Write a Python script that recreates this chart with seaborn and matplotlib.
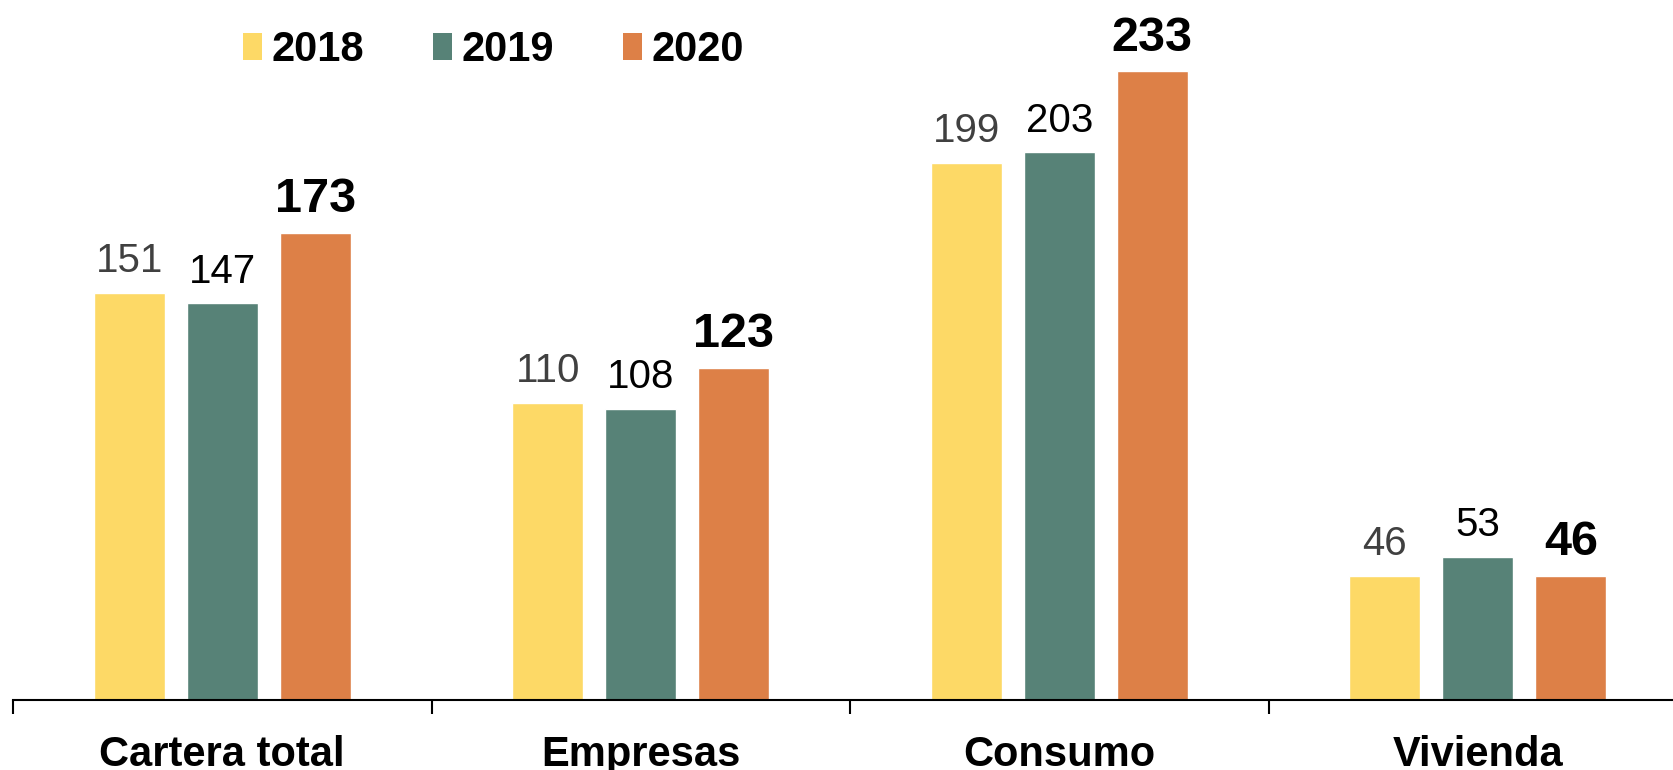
import matplotlib
matplotlib.use("Agg")
import matplotlib.pyplot as plt
import seaborn as sns
import pandas as pd
from matplotlib.patches import Patch

categories = ["Cartera total", "Empresas", "Consumo", "Vivienda"]
years = ["2018", "2019", "2020"]
values_2018 = [151, 110, 199, 46]
values_2019 = [147, 108, 203, 53]
values_2020 = [173, 123, 233, 46]
colors = ["#FDD966", "#578277", "#DD8047"]

rows = []
for yr, vals in zip(years, [values_2018, values_2019, values_2020]):
    for c, v in zip(categories, vals):
        rows.append({"categoria": c, "anio": yr, "valor": v})
df = pd.DataFrame(rows)

sns.set_style("white")
plt.rcParams['font.family'] = ['Liberation Sans', 'DejaVu Sans']

W, H, DPI = 1674, 770, 100
fig = plt.figure(figsize=(W / DPI, H / DPI), dpi=DPI)
ax = fig.add_axes([13 / W, 70 / H, (4 * 418.5) / W, 700 / H])

sns.barplot(data=df, x="categoria", y="valor", hue="anio", order=categories,
            hue_order=years, palette=colors, width=0.667, gap=0.235,
            saturation=1, legend=False, ax=ax, errorbar=None)

ax.set_xlim(-0.5, 3.5)
ax.set_ylim(0, 259.5)
for s in ["top", "right", "left"]:
    ax.spines[s].set_visible(False)
ax.spines["bottom"].set_linewidth(1.5)
ax.spines["bottom"].set_color("#000000")
ax.set_yticks([])
ax.set_xlabel("")
ax.set_ylabel("")
ax.set_xticks(range(len(categories)))
ax.set_xticklabels(categories, fontsize=30, fontweight="bold", color="black")
ax.tick_params(axis="x", which="major", length=0, pad=25, bottom=True)
ax.set_xticks([-0.5, 0.5, 1.5, 2.5, 3.5], minor=True)
ax.tick_params(axis="x", which="minor", length=10, width=1.5, color="black",
               direction="out", bottom=True)

# value labels
label_styles = [
    dict(color="#404040", fontsize=29, fontweight="normal"),
    dict(color="#000000", fontsize=29, fontweight="normal"),
    dict(color="#000000", fontsize=35, fontweight="bold"),
]
for container, style in zip(ax.containers, label_styles):
    for bar in container:
        h = bar.get_height()
        ax.annotate(f"{h:.0f}", (bar.get_x() + bar.get_width() / 2, h),
                    xytext=(0, 15), textcoords="offset points",
                    ha="center", va="baseline", **style)

handles = [Patch(facecolor=c, edgecolor="none", label=y) for c, y in zip(colors, years)]
leg = fig.legend(handles=handles, loc="center left",
                 bbox_to_anchor=(243 / W, 1 - 50 / H), ncol=3, frameon=False,
                 handlelength=0.45, handleheight=0.6, handletextpad=0.24,
                 columnspacing=1.65, borderpad=0, borderaxespad=0,
                 prop=dict(weight="bold", size=30))
for t in leg.get_texts():
    t.set_color("black")

fig.savefig("out.png", dpi=DPI)
